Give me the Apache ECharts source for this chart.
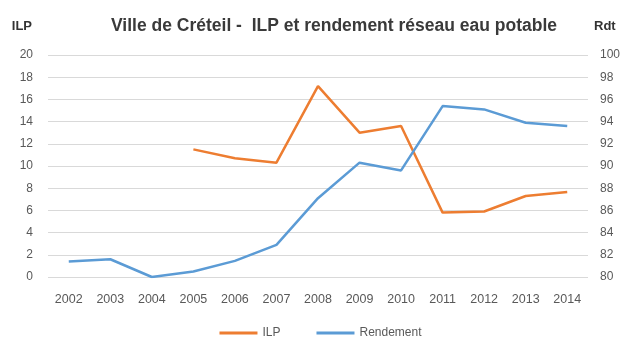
<!DOCTYPE html>
<html>
<head>
<meta charset="utf-8">
<script src="https://cdn.jsdelivr.net/npm/echarts@6/dist/echarts.min.js"></script>
<style>
  html, body { margin: 0; padding: 0; background: #fff; }
  #chart { width: 641px; height: 344px; }
</style>
</head>
<body>
<div id="chart"></div>
<script>
// Years on the category axis
const years = ['2002', '2003', '2004', '2005', '2006', '2007', '2008', '2009', '2010', '2011', '2012', '2013', '2014'];
// Indice linéaire de pertes (left axis); no value before 2005
const ilp = [null, null, null, 11.5, 10.7, 10.3, 17.2, 13.0, 13.6, 5.8, 5.9, 7.3, 7.65];
// Rendement du réseau, % (right axis)
const rendement = [81.4, 81.6, 80.0, 80.5, 81.45, 82.9, 87.1, 90.3, 89.6, 95.4, 95.1, 93.9, 93.6];

const FONT = 'Liberation Sans';
const chart = echarts.init(document.getElementById('chart'));
chart.setOption({
  animation: false,
  textStyle: { fontFamily: FONT },
  title: {
    text: 'Ville de Créteil -  ILP et rendement réseau eau potable',
    left: 329, top: 12, textAlign: 'center',
    textStyle: { fontFamily: FONT, fontSize: 17.5, fontWeight: 'bold', color: '#3a3a3a' }
  },
  legend: {
    bottom: 0, left: 'center',
    itemWidth: 38, itemHeight: 3, itemGap: 36,
    icon: 'rect',
    textStyle: { fontFamily: FONT, fontSize: 12, color: '#595959' },
    data: ['ILP', 'Rendement']
  },
  grid: { left: 48, right: 53, top: 55, bottom: 67 },
  xAxis: {
    type: 'category', data: years, boundaryGap: true,
    axisLine: { show: false }, axisTick: { show: false },
    axisLabel: { color: '#595959', fontSize: 12.5, margin: 16 }
  },
  yAxis: [
    {
      type: 'value', min: 0, max: 20, interval: 2,
      name: 'ILP', nameLocation: 'end', nameGap: 22,
      nameTextStyle: { color: '#333333', fontSize: 13, fontWeight: 'bold', align: 'right', padding: [0, 16, 0, 0] },
      axisLine: { show: false }, axisTick: { show: false },
      axisLabel: { color: '#595959', fontSize: 12, margin: 15 },
      splitLine: { lineStyle: { color: '#d9d9d9', width: 1 } }
    },
    {
      type: 'value', min: 80, max: 100, interval: 2,
      name: 'Rdt', nameLocation: 'end', nameGap: 22,
      nameTextStyle: { color: '#333333', fontSize: 13, fontWeight: 'bold', align: 'left', padding: [0, 0, 0, 6] },
      axisLine: { show: false }, axisTick: { show: false },
      axisLabel: { color: '#595959', fontSize: 12, margin: 12 },
      splitLine: { show: false }
    }
  ],
  series: [
    {
      name: 'ILP', type: 'line', yAxisIndex: 0, data: ilp,
      showSymbol: false, symbol: 'none', connectNulls: false,
      lineStyle: { color: '#ED7D31', width: 2.5 }, itemStyle: { color: '#ED7D31' }
    },
    {
      name: 'Rendement', type: 'line', yAxisIndex: 1, data: rendement,
      showSymbol: false, symbol: 'none',
      lineStyle: { color: '#5B9BD5', width: 2.5 }, itemStyle: { color: '#5B9BD5' }
    }
  ]
});
</script>
</body>
</html>
